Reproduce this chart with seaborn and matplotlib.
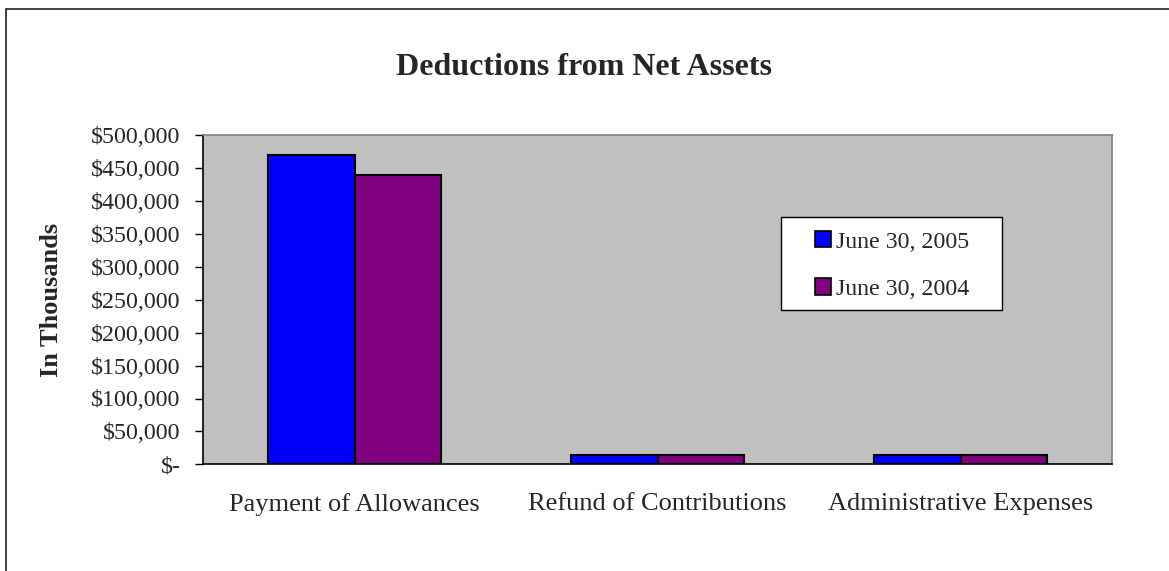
import matplotlib
matplotlib.use("Agg")
import matplotlib.pyplot as plt
import seaborn as sns
import pandas as pd
from matplotlib.ticker import FuncFormatter, FixedLocator
from matplotlib.lines import Line2D
from matplotlib.patches import Patch, Rectangle

categories = ["Payment of Allowances", "Refund of Contributions", "Administrative Expenses"]
series_names = ["June 30, 2005", "June 30, 2004"]
values_2005 = [470000, 13500, 13500]
values_2004 = [440000, 13500, 13500]
colors = ["#0000FF", "#800080"]
y_ticks = [0, 50000, 100000, 150000, 200000, 250000, 300000, 350000, 400000, 450000, 500000]

rows = []
for c, v in zip(categories, values_2005):
    rows.append({"Category": c, "Series": series_names[0], "Value": v})
for c, v in zip(categories, values_2004):
    rows.append({"Category": c, "Series": series_names[1], "Value": v})
df = pd.DataFrame(rows)

sns.set_theme(style="white")
plt.rcParams['font.family'] = ['Liberation Serif', 'DejaVu Serif']

W, H = 1169, 571
fig = plt.figure(figsize=(W/100, H/100), dpi=100)
ax_l, ax_r, ax_t, ax_b = 203, 1112, 135.3, 464.3
ax = fig.add_axes([ax_l/W, 1 - ax_b/H, (ax_r-ax_l)/W, (ax_b-ax_t)/H])

sns.barplot(data=df, x="Category", y="Value", hue="Series", order=categories,
            hue_order=series_names, palette=colors, width=0.574, gap=0,
            edgecolor="black", linewidth=1.5, saturation=1, ax=ax, legend=False)

ax.set_facecolor("#C0C0C0")
ax.set_xlim(-0.5, 2.5)
ax.set_ylim(0, 500000)
ax.yaxis.set_major_locator(FixedLocator(y_ticks))
ax.yaxis.set_major_formatter(FuncFormatter(lambda v, p: "$-" if v == 0 else "${:,.0f}".format(v)))
ax.set_xticks([0, 1, 2])
ax.set_xticklabels(categories, fontsize=19)
ax.set_xticks([-0.5, 0.5, 1.5, 2.5], minor=True)
ax.tick_params(axis="x", which="major", length=0, pad=21)
ax.tick_params(axis="x", which="minor", length=6, width=1, color="black", direction="out")
ax.tick_params(axis="y", which="major", length=6, width=1, color="black", direction="out",
               labelsize=17.3, pad=10, left=True)
ax.set_xlabel("")
ax.set_ylabel("In Thousands", fontsize=19, fontweight="bold", labelpad=20)

for s in ["top", "right"]:
    ax.spines[s].set_color("#808080")
    ax.spines[s].set_linewidth(1.2)
for s in ["left", "bottom"]:
    ax.spines[s].set_color("black")
    ax.spines[s].set_linewidth(1.2)

# legend box
def px2ax(x, y):
    return (x - ax_l) / (ax_r - ax_l), (ax_b - y) / (ax_b - ax_t)

bx0, by0 = px2ax(781, 310)
bx1, by1 = px2ax(1002, 217)
ax.add_patch(Rectangle((bx0, by0), bx1 - bx0, by1 - by0, transform=ax.transAxes,
                       facecolor="white", edgecolor="black", linewidth=1.0, zorder=5))

handles = [Patch(facecolor=colors[i], edgecolor="black", linewidth=1.2, label=series_names[i])
           for i in range(2)]
lx, ly = px2ax(815, 231)
leg = ax.legend(handles=handles, loc="upper left", bbox_to_anchor=(lx, ly),
                fontsize=17.2, frameon=False,
                handlelength=0.67, handleheight=0.67, handletextpad=0.2,
                labelspacing=1.08, borderpad=0, borderaxespad=0)
leg.set_zorder(6)

fig.text(0.5, 1 - 75/H, "Deductions from Net Assets", ha="center", va="baseline",
         fontsize=23, fontweight="bold")

# outer chart frame (top and left visible)
fig.add_artist(Line2D([6/W, 6/W], [0, 1 - 9/H], color="#222222", linewidth=1.2,
                      transform=fig.transFigure))
fig.add_artist(Line2D([6/W, 1], [1 - 9/H, 1 - 9/H], color="#222222", linewidth=1.2,
                      transform=fig.transFigure))

fig.savefig("out.png", dpi=100)
